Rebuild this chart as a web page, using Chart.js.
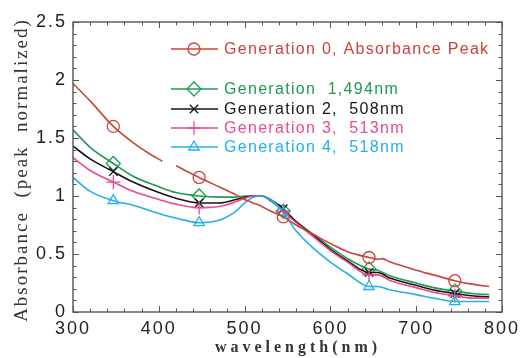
<!DOCTYPE html>
<html>
<head>
<meta charset="utf-8">
<script src="https://cdn.jsdelivr.net/npm/chart.js@4/dist/chart.umd.min.js"></script>
<style>
  html, body { margin: 0; padding: 0; background: #fff; }
  #wrap { width: 528px; height: 358px; }
</style>
</head>
<body>
<div id="wrap"><canvas id="chart" width="528" height="358"></canvas></div>
<script>
// wavelengths (nm) shared by generations 1-4
const wavelengths = [300, 320, 347, 370, 400, 420, 447, 470, 490, 500, 510, 520, 530, 545, 560, 580, 600, 620, 645, 655, 670, 700, 720, 745, 765, 785];
// generation 0 has its own sampling (the line has a short gap near 410 nm)
const gen0Wavelengths = [300, 320, 347, 370, 390, 404, 413, 420, 447, 470, 490, 500, 510, 520, 530, 545, 560, 580, 600, 620, 645, 655, 660, 670, 700, 720, 745, 765, 785];
const gen0 = [1.97, 1.82, 1.60, 1.46, 1.36, 1.30, null, 1.26, 1.16, 1.08, 1.01, 0.97, 0.94, 0.91, 0.87, 0.82, 0.75, 0.67, 0.59, 0.52, 0.47, 0.455, 0.46, 0.43, 0.36, 0.32, 0.27, 0.24, 0.22];
const gen1 = [1.57, 1.42, 1.28, 1.17, 1.08, 1.03, 1.00, 0.99, 0.99, 1.00, 1.00, 1.00, 0.96, 0.87, 0.78, 0.67, 0.56, 0.46, 0.37, 0.36, 0.31, 0.25, 0.21, 0.18, 0.16, 0.15];
const gen2 = [1.43, 1.32, 1.21, 1.12, 1.03, 0.98, 0.94, 0.94, 0.97, 0.99, 1.00, 1.00, 0.97, 0.89, 0.78, 0.66, 0.54, 0.44, 0.34, 0.34, 0.29, 0.23, 0.19, 0.16, 0.14, 0.13];
const gen3 = [1.33, 1.22, 1.12, 1.04, 0.97, 0.93, 0.90, 0.91, 0.95, 0.98, 1.00, 1.00, 0.97, 0.87, 0.77, 0.65, 0.53, 0.43, 0.32, 0.32, 0.27, 0.21, 0.17, 0.14, 0.12, 0.12];
const gen4 = [1.16, 1.04, 0.96, 0.92, 0.85, 0.81, 0.77, 0.79, 0.87, 0.94, 0.99, 1.00, 0.97, 0.86, 0.70, 0.55, 0.43, 0.33, 0.22, 0.22, 0.19, 0.15, 0.12, 0.09, 0.09, 0.09];
// wavelengths that carry a marker symbol
const markerWavelengths = [347, 447, 545, 645, 745];

const seriesLabels = ['Generation 0, Absorbance Peak', 'Generation  1,494nm', 'Generation 2,  508nm', 'Generation 3,  513nm', 'Generation 4,  518nm'];
const xTickLabels = ['300', '400', '500', '600', '700', '800'];
const yTickLabels = ['0', '0.5', '1', '1.5', '2', '2.5'];

const colors = ['#c9443c', '#1f9a52', '#151515', '#ea4a92', '#22b0ec'];
const styles = ['circle', 'rectRot', 'crossRot', 'cross', 'triangle'];
const radii = [6, 7, 6, 7, 6];

function toPoints(xs, ys) {
  return xs.map((x, i) => ({ x: x, y: ys[i] }));
}
function markerRadius(xs, r) {
  return xs.map(x => markerWavelengths.includes(x) ? r : 0);
}

const allData = [
  toPoints(gen0Wavelengths, gen0),
  toPoints(wavelengths, gen1),
  toPoints(wavelengths, gen2),
  toPoints(wavelengths, gen3),
  toPoints(wavelengths, gen4)
];
const allX = [gen0Wavelengths, wavelengths, wavelengths, wavelengths, wavelengths];

const datasets = allData.map((d, i) => ({
  label: seriesLabels[i],
  data: d,
  borderColor: colors[i],
  borderWidth: 1.6,
  pointStyle: styles[i],
  pointRadius: markerRadius(allX[i], radii[i]),
  pointBorderWidth: 1.3,
  pointBorderColor: colors[i],
  pointBackgroundColor: 'rgba(0,0,0,0)',
  cubicInterpolationMode: 'monotone',
  spanGaps: false,
  order: i === 0 ? 0 : 5 - i
}));

// inward ticks, frame, legend and axis titles
const decor = {
  id: 'decor',
  beforeDraw(chart) {
    chart.ctx.letterSpacing = '2px';
  },
  beforeDatasetsDraw(chart) {
    chart.ctx.letterSpacing = '0px';
  },
  afterDatasetsDraw(chart) {
    const ctx = chart.ctx;
    const a = chart.chartArea;
    const xs = chart.scales.x, ys = chart.scales.y;
    ctx.save();
    ctx.strokeStyle = '#555';
    ctx.lineWidth = 1.4;
    ctx.strokeRect(a.left, a.top, a.right - a.left, a.bottom - a.top);
    ctx.lineWidth = 1;
    ctx.beginPath();
    for (let w = 300; w <= 800; w += 20) {
      const px = Math.round(xs.getPixelForValue(w)) + 0.5;
      const len = (w % 100 === 0) ? 6 : 3.5;
      ctx.moveTo(px, a.bottom); ctx.lineTo(px, a.bottom - len);
      ctx.moveTo(px, a.top); ctx.lineTo(px, a.top + len);
    }
    for (let k = 0; k <= 25; k++) {
      const py = Math.round(ys.getPixelForValue(k / 10)) + 0.5;
      const len = (k % 5 === 0) ? 6 : 3.5;
      ctx.moveTo(a.left, py); ctx.lineTo(a.left + len, py);
      ctx.moveTo(a.right, py); ctx.lineTo(a.right - len, py);
    }
    ctx.stroke();

    // legend
    const rows = [49, 89, 109, 128, 147];
    ctx.font = '16px "Liberation Sans", Arial, sans-serif';
    ctx.textBaseline = 'middle';
    ctx.textAlign = 'left';
    chart.data.datasets.forEach((ds, i) => {
      const y = rows[i];
      ctx.strokeStyle = colors[i];
      ctx.fillStyle = 'rgba(0,0,0,0)';
      ctx.lineWidth = 1.6;
      ctx.beginPath();
      ctx.moveTo(171, y); ctx.lineTo(218, y);
      ctx.stroke();
      ctx.lineWidth = 1.3;
      Chart.helpers.drawPoint(ctx, { pointStyle: styles[i], radius: radii[i], rotation: 0, borderWidth: 1.3 }, 194, y);
      ctx.fillStyle = colors[i];
      ctx.letterSpacing = '1.3px';
      ctx.fillText(ds.label, 224, y + 1);
      ctx.letterSpacing = '0px';
    });

    // axis titles
    ctx.fillStyle = '#333';
    ctx.textAlign = 'center';
    ctx.font = 'bold 16px "Liberation Serif", "Times New Roman", serif';
    ctx.letterSpacing = '4px';
    ctx.fillText('wavelength(nm)', 298, 348);
    ctx.translate(22, 170);
    ctx.rotate(-Math.PI / 2);
    ctx.font = '19px "Liberation Serif", "Times New Roman", serif';
    ctx.letterSpacing = '2px';
    ctx.fillText('Absorbance  (peak  normalized)', 0, 0);
    ctx.restore();
  }
};

new Chart(document.getElementById('chart'), {
  type: 'line',
  data: { datasets: datasets },
  options: {
    responsive: false,
    animation: false,
    layout: { padding: { left: 0, right: 26, top: 22, bottom: 0 } },
    plugins: { legend: { display: false }, tooltip: { enabled: false } },
    scales: {
      x: {
        type: 'linear',
        min: 300,
        max: 800,
        afterFit: s => { s.height = 46; },
        grid: { display: false, drawTicks: false },
        border: { display: false },
        ticks: {
          stepSize: 100,
          padding: 6,
          color: '#222',
          font: { family: '"Liberation Sans", Arial, sans-serif', size: 18 },
          callback: v => xTickLabels[(v - 300) / 100]
        }
      },
      y: {
        min: 0,
        max: 2.5,
        afterFit: s => { s.width = 73; },
        grid: { display: false, drawTicks: false },
        border: { display: false },
        ticks: {
          stepSize: 0.5,
          padding: 6,
          color: '#222',
          font: { family: '"Liberation Sans", Arial, sans-serif', size: 18 },
          callback: v => yTickLabels[Math.round(v * 2)]
        }
      }
    }
  },
  plugins: [decor]
});
</script>
</body>
</html>
